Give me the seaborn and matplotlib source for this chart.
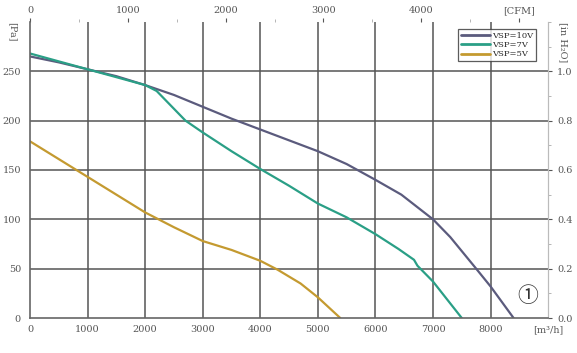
import pandas as pd
import seaborn as sns
import matplotlib
matplotlib.use("Agg")
import matplotlib.pyplot as plt
from matplotlib.ticker import MultipleLocator

# fan curves: airflow [m3/h] vs static pressure [Pa]
q10 = [0, 500, 1000, 1500, 2000, 2500, 3000, 3500, 4000, 4500, 5000, 5500, 6000, 6450, 7000, 7300, 7750, 8000, 8400]
p10 = [265, 259, 252, 245, 236, 226, 214, 202, 191, 180, 169, 156, 140, 125, 100, 82, 50, 32, 0]

q7 = [0, 500, 1000, 1500, 2000, 2200, 2500, 2700, 3000, 3500, 4000, 4500, 5000, 5500, 6000, 6400, 6670, 6730, 7000, 7500]
p7 = [268, 260, 252, 244, 236, 230, 212, 200, 188, 169, 151, 134, 116, 102, 85, 70, 59, 53, 37, 0]

q5 = [0, 500, 1000, 1500, 2000, 2500, 3000, 3500, 4000, 4300, 4700, 5000, 5390]
p5 = [179, 161, 143, 125, 107, 92, 78, 69, 58, 49, 35, 21, 0]

series = ["VSP=10V", "VSP=7V", "VSP=5V"]
colors = {"VSP=10V": "#5b5b7d", "VSP=7V": "#2a9f86", "VSP=5V": "#c49a30"}

x_ticks = [0, 1000, 2000, 3000, 4000, 5000, 6000, 7000, 8000, 9000]
x_labels = ["0", "1000", "2000", "3000", "4000", "5000", "6000", "7000", "8000", "[m³/h]"]
cfm_ticks = [0, 1000, 2000, 3000, 4000, 5000]
cfm_labels = ["0", "1000", "2000", "3000", "4000", "[CFM]"]
pa_ticks = [0, 50, 100, 150, 200, 250]
inh2o_ticks = [0.0, 0.2, 0.4, 0.6, 0.8, 1.0]

df = pd.concat([
    pd.DataFrame({"flow": q10, "pressure": p10, "curve": "VSP=10V"}),
    pd.DataFrame({"flow": q7, "pressure": p7, "curve": "VSP=7V"}),
    pd.DataFrame({"flow": q5, "pressure": p5, "curve": "VSP=5V"}),
])

sns.set_style("white")
plt.rcParams["font.family"] = ["DejaVu Serif", "Noto Sans CJK SC"]
tc = "#555555"

fig = plt.figure(figsize=(5.77, 3.53), dpi=100)
ax = fig.add_axes([0.052, 0.099, 0.898, 0.839])

sns.lineplot(data=df, x="flow", y="pressure", hue="curve", hue_order=series,
             palette=colors, linewidth=1.6, sort=False, estimator=None, ax=ax)

ax.set_xlim(0, 9000)
ax.set_ylim(0, 300)
ax.set_xticks(x_ticks, x_labels)
ax.set_yticks(pa_ticks)
ax.set_xlabel("")
ax.set_ylabel("")
ax.tick_params(labelsize=7, colors=tc, length=3, direction="out")
ax.tick_params(axis="x", pad=2)

# grid
for xv in x_ticks[1:-1]:
    ax.axvline(xv, color="#555555", lw=1.1, zorder=0)
for yv in pa_ticks[1:]:
    ax.axhline(yv, color="#555555", lw=1.1, zorder=0)

for s in ["left", "bottom"]:
    ax.spines[s].set_color("#666666")
    ax.spines[s].set_linewidth(1.2)
ax.spines["top"].set_visible(False)
ax.spines["right"].set_color("#bbbbbb")

# top axis in CFM
top = ax.secondary_xaxis("top", functions=(lambda v: v / 1.699, lambda v: v * 1.699))
top.set_xticks(cfm_ticks, cfm_labels)
top.xaxis.set_minor_locator(MultipleLocator(500))
top.tick_params(labelsize=7, colors=tc, length=3, pad=2)
top.tick_params(which="minor", length=2, colors="#aaaaaa")
top.spines["top"].set_visible(False)

# right axis in inch of water
right = ax.secondary_yaxis("right", functions=(lambda v: v / 250.0, lambda v: v * 250.0))
right.set_yticks(inh2o_ticks, ["%.1f" % v for v in inh2o_ticks])
right.yaxis.set_minor_locator(MultipleLocator(0.1))
right.tick_params(labelsize=7, colors=tc, length=3)
right.tick_params(which="minor", length=2, colors="#aaaaaa")
right.spines["right"].set_color("#bbbbbb")

ax.text(-0.035, 1.0, "[Pa]", transform=ax.transAxes, rotation=-90,
        ha="center", va="top", fontsize=7, color=tc)
ax.text(1.02, 1.0, "[in H₂O]", transform=ax.transAxes, rotation=-90,
        ha="left", va="top", fontsize=7, color=tc)

ax.text(8650, 22, "①", fontsize=15, ha="center", va="center", color="#333333")

leg = ax.legend(loc="upper right", bbox_to_anchor=(0.985, 0.99), fontsize=6,
                frameon=True, fancybox=False, edgecolor="#333333",
                handlelength=3.4, handletextpad=0.3, borderpad=0.35,
                labelspacing=0.15, title=None)
leg.get_frame().set_linewidth(0.9)
for line in leg.get_lines():
    line.set_linewidth(2.0)

fig.savefig("out.png", dpi=100)
